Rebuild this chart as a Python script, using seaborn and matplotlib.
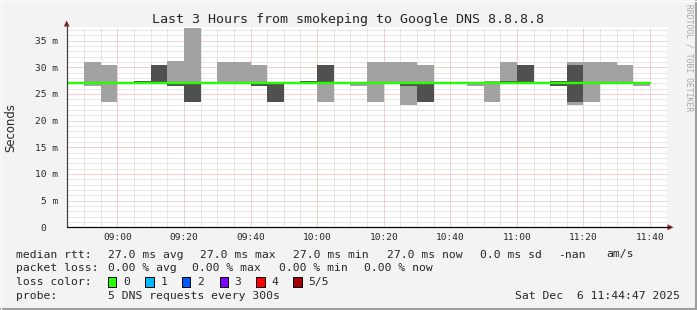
import matplotlib
matplotlib.use("Agg")
import matplotlib.pyplot as plt
import seaborn as sns
import pandas as pd
from matplotlib.patches import Rectangle, Polygon
from matplotlib.lines import Line2D

# ---------------- data ----------------
title = "Last 3 Hours from smokeping to Google DNS 8.8.8.8"
slot_times = ["08:45", "08:50", "08:55", "09:00", "09:05", "09:10", "09:15", "09:20", "09:25",
              "09:30", "09:35", "09:40", "09:45", "09:50", "09:55", "10:00", "10:05", "10:10",
              "10:15", "10:20", "10:25", "10:30", "10:35", "10:40", "10:45", "10:50", "10:55",
              "11:00", "11:05", "11:10", "11:15", "11:20", "11:25", "11:30", "11:35"]
# sorted ping round-trip times (ms) of the 5 DNS requests in each 5-min slot
ping1 = [27, 26.5, 23.5, 27, 27, 27, 26.5, 23.5, 27, 27, 27, 26.5, 23.5, 27, 27, 23.5, 27, 26.5,
         23.5, 27, 22.9, 23.5, 27, 27, 26.5, 23.5, 27, 27, 27, 26.5, 22.9, 23.5, 27, 27, 26.5]
ping2 = [27, 27, 27, 27, 27, 27, 26.5, 23.5, 27, 27, 27, 26.5, 23.5, 27, 27, 27, 27, 27,
         27, 27, 26.5, 23.5, 27, 27, 27, 27, 27, 27, 27, 26.5, 23.5, 27, 27, 27, 27]
ping3 = [27] * 35
ping4 = [27, 27, 27, 27, 27.5, 30.4, 27, 27, 27, 27, 27, 27, 27, 27, 27.5, 30.4, 27, 27,
         27, 27, 27, 27, 27, 27, 27, 27, 27.5, 30.4, 27, 27.5, 30.4, 27, 27, 27, 27]
ping5 = [27, 31.0, 30.4, 27, 27.5, 30.4, 31.2, 37.4, 27, 31.0, 31.0, 30.4, 27, 27, 27.5, 30.4, 27, 27,
         31.0, 31.0, 31.0, 30.4, 27, 27, 27, 27.5, 31.0, 30.4, 27, 27.5, 31.0, 31.0, 31.0, 30.4, 27]
median_rtt = [27.0] * 35

xtick_labels = ["09:00", "09:20", "09:40", "10:00", "10:20", "10:40", "11:00", "11:20", "11:40"]
ytick_values = [0, 5, 10, 15, 20, 25, 30, 35]
ytick_labels = ["0\u00a0\u00a0", "5 m", "10 m", "15 m", "20 m", "25 m", "30 m", "35 m"]

legend_rtt = ["median rtt:", "27.0 ms avg", "27.0 ms max", "27.0 ms min", "27.0 ms now",
              "0.0 ms sd", "-nan", "am/s"]
legend_loss = ["packet loss:", "0.00 % avg", "0.00 % max", "0.00 % min", "0.00 % now"]
loss_labels = ["0", "1", "2", "3", "4", "5/5"]
loss_colors = ["#26ff00", "#00b8ff", "#0059ff", "#7e00ff", "#ff0000", "#a10000"]
probe_text = "5 DNS requests every 300s"
stamp_text = "Sat Dec  6 11:44:47 2025"

# ---------------- figure ----------------
W, H = 697, 310
sns.set_style("white")
plt.rcParams["font.family"] = ["DejaVu Sans Mono", "DejaVu Sans"]
MONO = "DejaVu Sans Mono"

def fx(x):
    return x / W

def fy(y):
    return 1 - y / H

def mins(t):
    h, m = t.split(":")
    return (int(h) - 8) * 60 + int(m) - 45

fig = plt.figure(figsize=(W / 100, H / 100), dpi=100)
fig.patch.set_facecolor("#f3f3f3")
ax = fig.add_axes([fx(66.7), fy(227.3), 600 / W, 200 / H])
ax.set_facecolor("white")

df = pd.DataFrame({"t": [mins(t) for t in slot_times], "p1": ping1, "p2": ping2,
                   "p3": ping3, "p4": ping4, "p5": ping5, "median": median_rtt})
step = 5
x_edges = list(df["t"]) + [df["t"].iloc[-1] + step]

def ext(col):
    v = list(df[col])
    return v + [v[-1]]

light, dark = "#a2a2a2", "#505050"
for lo, hi, col in [("p1", "p2", light), ("p2", "p3", dark), ("p3", "p4", dark), ("p4", "p5", light)]:
    ax.fill_between(x_edges, ext(lo), ext(hi), step="post", color=col, linewidth=0, zorder=2)

med = pd.DataFrame({"t": x_edges, "median": ext("median")})
sns.lineplot(data=med, x="t", y="median", ax=ax, color="#26ff00", linewidth=1.7,
             drawstyle="steps-post", zorder=3)

start_off = -13 / 60
ax.set_xlim(start_off, 180 + start_off)
ax.set_ylim(0, 37.5)

ax.set_xticks([mins(t) for t in xtick_labels])
ax.set_xticklabels(xtick_labels, fontsize=6.8, family=MONO)
ax.set_xticks([m for m in range(0, 181, 5)], minor=True)
ax.set_yticks(ytick_values)
ax.set_yticklabels(ytick_labels, fontsize=6.8, family=MONO)
ax.set_yticks([v for v in range(0, 38)], minor=True)
ax.tick_params(axis="x", which="both", length=0, pad=4.2)
ax.tick_params(axis="y", which="major", length=2, pad=4, color="#404040", direction="out")
ax.tick_params(axis="y", which="minor", length=2, color="#404040", direction="out")
ax.set_xlabel("")
ax.set_ylabel("")

ax.set_axisbelow(True)
ax.grid(which="minor", color="#d0d0d0", linestyle=(0, (1, 1)), linewidth=0.72)
ax.grid(which="major", color="#f0a0a0", linestyle=(0, (1, 1)), linewidth=0.72)

for s in ["top", "right"]:
    ax.spines[s].set_visible(False)
ax.spines["left"].set_color("#404040")
ax.spines["left"].set_linewidth(0.8)
ax.spines["bottom"].set_color("black")
ax.spines["bottom"].set_linewidth(0.8)

# axis extensions and arrows
fig.add_artist(Line2D([fx(66.7), fx(66.7)], [fy(227.3), fy(24)], color="#404040", lw=0.8))
fig.add_artist(Line2D([fx(66.7), fx(669)], [fy(227.3), fy(227.3)], color="black", lw=0.8))
arrow_col = "#8b1a1a"
fig.add_artist(Polygon([[fx(63.8), fy(26.5)], [fx(69.6), fy(26.5)], [fx(66.7), fy(20.5)]],
                       closed=True, color=arrow_col, lw=0))
fig.add_artist(Polygon([[fx(667.5), fy(224.4)], [fx(667.5), fy(230.2)], [fx(673.5), fy(227.3)]],
                       closed=True, color=arrow_col, lw=0))

# texts
fig.text(fx(348.5), fy(19), title, ha="center", va="center", fontsize=9.6, family=MONO)
fig.text(fx(10.5), fy(127.3), "Seconds", rotation=90, ha="center", va="center",
         fontsize=8.4, family="DejaVu Sans")
fig.text(fx(688.5), fy(4), "RRDTOOL / TOBI OETIKER", rotation=270, ha="center", va="top",
         fontsize=5.8, family=MONO, color="#a8a8a8")

LFS = 8.2
rtt_x = [16, 107.6, 200, 293.3, 386.7, 480, 557.8, 606.7]
for x, s in zip(rtt_x, legend_rtt):
    fig.text(fx(x), fy(254.5), s, ha="left", va="center", fontsize=LFS, family=MONO)
loss_x = [16, 107.6, 192, 279, 364.4]
for x, s in zip(loss_x, legend_loss):
    fig.text(fx(x), fy(268.3), s, ha="left", va="center", fontsize=LFS, family=MONO)
fig.text(fx(16), fy(282.3), "loss color:", ha="left", va="center", fontsize=LFS, family=MONO)
box_x = [108, 145.3, 182, 219.6, 256.4, 293.3]
for bx, lab, col in zip(box_x, loss_labels, loss_colors):
    fig.add_artist(Rectangle((fx(bx), fy(286.8)), 8.4 / W, 9.4 / H, facecolor=col,
                             edgecolor="black", linewidth=0.7))
    fig.text(fx(bx + 15), fy(282.3), lab, ha="left", va="center", fontsize=LFS, family=MONO)
fig.text(fx(16), fy(296), "probe:", ha="left", va="center", fontsize=LFS, family=MONO)
fig.text(fx(107.6), fy(296), probe_text, ha="left", va="center", fontsize=LFS, family=MONO)
fig.text(fx(680), fy(296), stamp_text, ha="right", va="center", fontsize=LFS, family=MONO)

# frame
fig.add_artist(Line2D([0, 1], [fy(309), fy(309)], color="#9e9e9e", lw=1.5))
fig.add_artist(Line2D([fx(696), fx(696)], [0, 1], color="#9e9e9e", lw=1.5))
fig.add_artist(Line2D([0, 1], [fy(0.5), fy(0.5)], color="#fcfcfc", lw=1.0))
fig.add_artist(Line2D([fx(0.5), fx(0.5)], [0, 1], color="#fcfcfc", lw=1.0))

fig.savefig("out.png", dpi=100, facecolor=fig.get_facecolor())
